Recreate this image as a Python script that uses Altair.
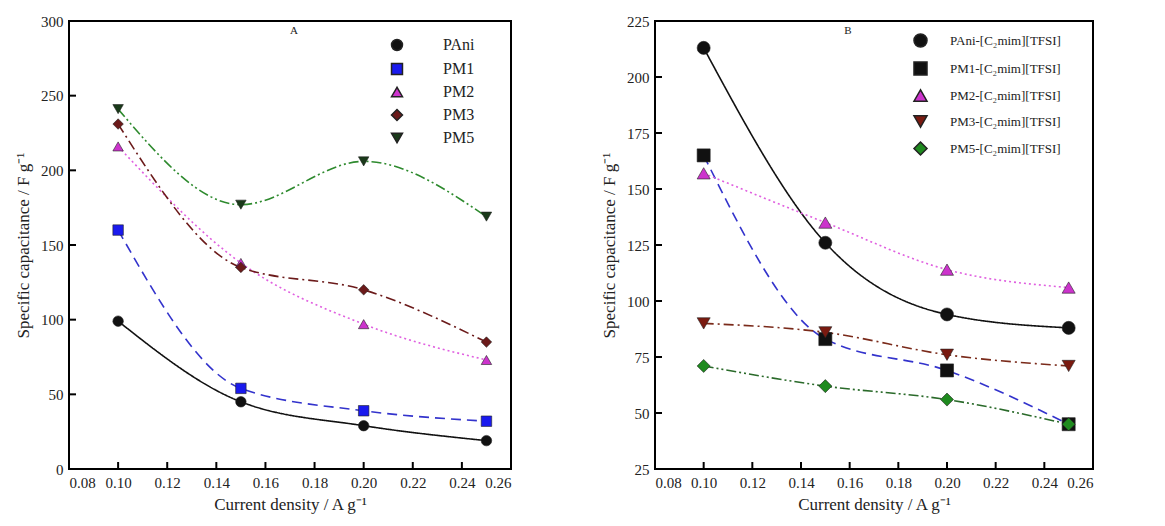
import altair as alt
import pandas as pd

# ---------------- data ----------------
x_vals = [0.10, 0.15, 0.20, 0.25]

a_series = ["PAni", "PM1", "PM2", "PM3", "PM5"]
a_pani = [99, 45, 29, 19]
a_pm1 = [160, 54, 39, 32]
a_pm2 = [216, 138, 97, 73]
a_pm3 = [231, 135, 120, 85]
a_pm5 = [241, 177, 206, 169]

b_series = ["PAni-[C₂mim][TFSI]", "PM1-[C₂mim][TFSI]", "PM2-[C₂mim][TFSI]",
            "PM3-[C₂mim][TFSI]", "PM5-[C₂mim][TFSI]"]
b_pani = [213, 126, 94, 88]
b_pm1 = [165, 83, 69, 45]
b_pm2 = [157, 135, 114, 106]
b_pm3 = [90, 86, 76, 71]
b_pm5 = [71, 62, 56, 45]

x_ticks = [0.08, 0.10, 0.12, 0.14, 0.16, 0.18, 0.20, 0.22, 0.24, 0.26]
a_y_ticks = [0, 50, 100, 150, 200, 250, 300]
b_y_ticks = [25, 50, 75, 100, 125, 150, 175, 200, 225]

# ---------------- styles ----------------
FONT = "Liberation Serif"
TXT = "#222222"
FRAME = "black"

a_marker_colors = ["#111111", "#1a1aee", "#cc33cc", "#6b1a1a", "#1a3a1a"]
a_line_colors = ["#111111", "#3333cc", "#e060e0", "#6b1a1a", "#2e8a2e"]
a_shapes = ["circle", "square", "triangle-up", "diamond", "triangle-down"]
a_dashes = [[1, 0], [10, 6], [2, 3], [10, 4, 2, 4], [10, 3, 2, 3, 2, 3]]

b_marker_colors = ["#111111", "#111111", "#cc33cc", "#7a1a10", "#1f8a1f"]
b_line_colors = ["#111111", "#3333cc", "#e060e0", "#7a2a1a", "#2a6a2a"]
b_shapes = ["circle", "square", "triangle-up", "triangle-down", "diamond"]
b_dashes = [[1, 0], [10, 6], [2, 3], [10, 4, 2, 4], [10, 3, 2, 3, 2, 3]]


def panel(series, values, marker_colors, line_colors, shapes, dashes,
          y_dom, y_ticks, letter, letter_x, W, H, msize, legend_cfg):
    rows = []
    for s, v in zip(series, values):
        for xv, yv in zip(x_vals, v):
            rows.append({"series": s, "x": xv, "y": yv})
    df = pd.DataFrame(rows)

    xscale = alt.Scale(domain=[0.08, 0.26], nice=False, zero=False)
    yscale = alt.Scale(domain=y_dom, nice=False, zero=False)
    xaxis = alt.Axis(values=x_ticks, format=".2f", tickSize=0, labelPadding=6,
                     labelFontSize=15, title="Current density / A g⁻¹",
                     titleFontSize=17, titleFontWeight="normal", titlePadding=6,
                     grid=False, domainColor="#333333", labelColor=TXT,
                     titleColor=TXT, labelFont=FONT, titleFont=FONT)
    yaxis = alt.Axis(values=y_ticks, tickSize=0, labelPadding=6, labelFontSize=15,
                     title="Specific capacitance / F g⁻¹", titleFontSize=17,
                     titleFontWeight="normal", titlePadding=8, grid=False,
                     domainColor="#333333", labelColor=TXT,
                     titleColor=TXT, labelFont=FONT, titleFont=FONT)

    frame = alt.Chart(pd.DataFrame({"f": [0]})).mark_rect(
        fill="white", stroke=FRAME, strokeWidth=2).encode(
        x=alt.value(0), x2=alt.value(W), y=alt.value(0), y2=alt.value(H))
    layers = [frame]

    for s, lc, d in zip(series, line_colors, dashes):
        sub = df[df.series == s]
        layers.append(
            alt.Chart(sub).mark_line(interpolate="monotone", strokeWidth=1.6,
                                     color=lc, strokeDash=d)
            .encode(x=alt.X("x:Q", scale=xscale, axis=xaxis),
                    y=alt.Y("y:Q", scale=yscale, axis=yaxis))
        )
    pts = alt.Chart(df).mark_point(filled=True, size=msize, opacity=1,
                                   stroke="#222", strokeWidth=0.6).encode(
        x=alt.X("x:Q", scale=xscale, axis=xaxis),
        y=alt.Y("y:Q", scale=yscale, axis=yaxis),
        color=alt.Color("series:N", scale=alt.Scale(domain=series, range=marker_colors),
                        legend=alt.Legend(title=None, **legend_cfg)),
        shape=alt.Shape("series:N", scale=alt.Scale(domain=series, range=shapes),
                        legend=alt.Legend(title=None, **legend_cfg)),
    )
    layers.append(pts)

    # inward ticks
    xt = alt.Chart(pd.DataFrame({"t": x_ticks})).mark_rule(
        color=FRAME, strokeWidth=2).encode(
        x=alt.X("t:Q", scale=xscale, axis=xaxis),
        y=alt.value(H), y2=alt.value(H - 7))
    yt = alt.Chart(pd.DataFrame({"u": y_ticks})).mark_rule(
        color=FRAME, strokeWidth=2).encode(
        y=alt.Y("u:Q", scale=yscale, axis=yaxis),
        x=alt.value(0), x2=alt.value(7))
    layers += [xt, yt]

    lab = alt.Chart(pd.DataFrame({"t": [letter]})).mark_text(
        font=FONT, fontSize=11, color=TXT, baseline="middle").encode(
        text="t:N", x=alt.value(letter_x), y=alt.value(10))
    layers.append(lab)

    return alt.layer(*layers).properties(width=W, height=H)


legA = dict(orient="none", legendX=320, legendY=16, labelFont=FONT, labelFontSize=16,
            labelColor=TXT, symbolSize=120, rowPadding=6, labelOffset=38,
            symbolOpacity=1)
legB = dict(orient="none", legendX=258, legendY=12, labelFont=FONT, labelFontSize=13,
            labelColor=TXT, symbolSize=170, rowPadding=7, labelOffset=22,
            symbolOpacity=1)

pA = panel(a_series, [a_pani, a_pm1, a_pm2, a_pm3, a_pm5], a_marker_colors,
           a_line_colors, a_shapes, a_dashes, [0, 300], a_y_ticks, "A", 225,
           442, 448, 110, legA)
pB = panel(b_series, [b_pani, b_pm1, b_pm2, b_pm3, b_pm5], b_marker_colors,
           b_line_colors, b_shapes, b_dashes, [25, 225], b_y_ticks, "B", 193,
           438, 448, 170, legB)

chart = alt.hconcat(pA, pB, spacing=86).resolve_scale(
    color="independent", shape="independent"
).configure_view(stroke="black", strokeWidth=1.3)

chart.save("out.html", embed_options={"renderer": "svg", "actions": False})
